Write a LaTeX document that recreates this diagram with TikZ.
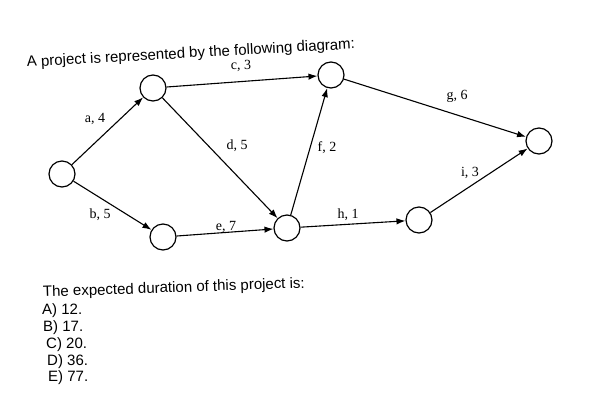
\documentclass[tikz,border=0pt]{standalone}
\usepackage{fontspec}
\setmainfont{Liberation Sans}
\newfontfamily\labelfont{Liberation Serif}
\usetikzlibrary{arrows.meta}

\begin{document}
\begin{tikzpicture}[x=1pt,y=-1pt,>={Latex[length=9pt,width=6.5pt]}]
\tikzset{
    ev/.style={%
        draw=black, line width=1.2pt,
        circle,
        minimum size=26pt,
        inner sep=0pt
        },
    act/.style={%
        ->, line width=1.1pt
        },
    lab/.style={%
        font=\labelfont\fontsize{14}{14}\selectfont,
        inner sep=0pt
        },
    txt/.style={%
        font=\fontsize{15}{15}\selectfont,
        anchor=base west,
        inner sep=0pt
        },
}
\useasboundingbox (0,0) rectangle (594,418);
%%%QUESTION
\node[txt, rotate=3.2] (intro) at (27,67) {A project is represented by the following diagram:};
\node[txt, rotate=2] (ask) at (43,297) {The expected duration of this project is:};
\node[txt] (optA) at (42,314) {A) 12.};
\node[txt] (optB) at (43,331) {B) 17.};
\node[txt] (optC) at (46,348) {C) 20.};
\node[txt] (optD) at (47,365) {D) 36.};
\node[txt] (optE) at (48,381) {E) 77.};
%%%EVENTS
\node[ev] (n1) at (62,174) {};
\node[ev] (n2) at (153,88) {};
\node[ev] (n3) at (331,75) {};
\node[ev] (n4) at (163,237) {};
\node[ev] (n5) at (287,228) {};
\node[ev] (n6) at (419,220) {};
\node[ev] (n7) at (539,141) {};
%%%ACTIVITIES
\draw[act] (n1) -- (n2);
\draw[act] (n1) -- (n4);
\draw[act] (n2) -- (n3);
\draw[act] (n2) -- (n5);
\draw[act] (n4) -- (n5);
\draw[act] (n5) -- (n3);
\draw[act] (n3) -- (n7);
\draw[act] (n5) -- (n6);
\draw[act] (n6) -- (n7);
%%%DURATIONS
\node[lab] (la) at (95,119) {a, 4};
\node[lab] (lb) at (100,215) {b, 5};
\node[lab] (lc) at (241,66) {c, 3};
\node[lab] (ld) at (237,146) {d, 5};
\node[lab] (le) at (226,227) {e, 7};
\node[lab] (lf) at (327,148) {f, 2};
\node[lab] (lg) at (457,96) {g, 6};
\node[lab] (lh) at (348,215) {h, 1};
\node[lab] (li) at (470,173) {i, 3};
\end{tikzpicture}
\end{document}
